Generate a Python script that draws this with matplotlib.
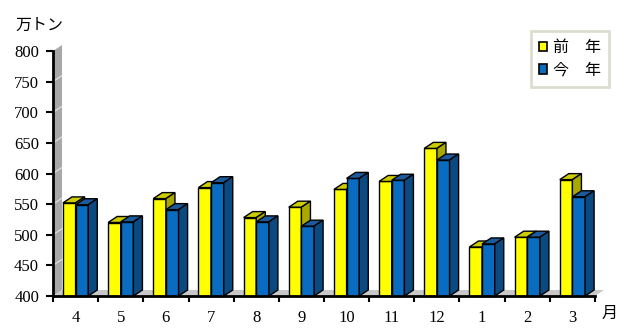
import numpy as np
import matplotlib
matplotlib.use('Agg')
import matplotlib.pyplot as plt
from matplotlib.patches import Polygon, Patch

""" 3D-style clustered column chart: monthly volume, previous year vs this year """

months = ['4', '5', '6', '7', '8', '9', '10', '11', '12', '1', '2', '3']
prev_year = [552, 520, 559, 577, 528, 545, 574, 587, 641, 480, 496, 590]
this_year = [549, 521, 541, 585, 521, 514, 592, 589, 622, 485, 496, 562]
series_labels = ['前\u3000年', '今\u3000年']
y_ticks = [400, 450, 500, 550, 600, 650, 700, 750, 800]

serif = ['Liberation Serif', 'DejaVu Serif']
cjk = ['Noto Sans CJK JP', 'DejaVu Sans']

# Colours for front / top / side of each series
yellow = ('#ffff00', '#cccc00', '#a8a800')
blue = ('#0a6cc0', '#1b5a9b', '#0a4a80')

fig = plt.figure(figsize=(6.35, 3.35), dpi=100)
ax = fig.add_axes([53 / 635, 39 / 335, 542 / 635, 245 / 335])
ax.set_xlim(-0.5, len(months) - 0.5)
ax.set_ylim(400, 800)

# depth of the fake 3D effect, in data units
dx = 0.2
dy = 9.8
w = 0.28
x_lo, x_hi = -0.5, len(months) - 0.5
y_lo, y_hi = 400, 800

# Gray wall on the left and floor at the bottom
wall = Polygon([(x_lo, y_lo), (x_lo + dx, y_lo + dy), (x_lo + dx, y_hi + dy), (x_lo, y_hi)],
               closed=True, facecolor='#a8a8a8', edgecolor='none', clip_on=False, zorder=1)
ax.add_patch(wall)
for t in y_ticks[1:-1]:
	ax.plot([x_lo, x_lo + dx], [t, t + dy], color='white', lw=0.8, alpha=0.7, clip_on=False, zorder=1.1)
floor = Polygon([(x_lo, y_lo), (x_hi, y_lo), (x_hi + dx, y_lo + dy), (x_lo + dx, y_lo + dy)],
                closed=True, facecolor='#c8c8c8', edgecolor='none', clip_on=False, zorder=1)
ax.add_patch(floor)

# Draw the bars category by category: yellow first, then blue covering its side
x = np.arange(len(months))
z = 2
for i in range(len(months)):
	for left, val, cols in ((x[i] - w, prev_year[i], yellow), (x[i], this_year[i], blue)):
		ax.bar(left, val - y_lo, width=w, bottom=y_lo, align='edge', color=cols[0],
		       edgecolor='black', linewidth=1, zorder=z, clip_on=False)
		top = Polygon([(left, val), (left + w, val), (left + w + dx, val + dy), (left + dx, val + dy)],
		              closed=True, facecolor=cols[1], edgecolor='black', linewidth=1, clip_on=False, zorder=z)
		side = Polygon([(left + w, y_lo), (left + w + dx, y_lo + dy), (left + w + dx, val + dy), (left + w, val)],
		               closed=True, facecolor=cols[2], edgecolor='black', linewidth=1, clip_on=False, zorder=z)
		ax.add_patch(top)
		ax.add_patch(side)
		z += 0.01

# Axes styling
for s in ['top', 'right']:
	ax.spines[s].set_visible(False)
for s in ['left', 'bottom']:
	ax.spines[s].set_linewidth(2)
	ax.spines[s].set_zorder(10)
ax.set_yticks(y_ticks)
ax.set_yticklabels([str(t) for t in y_ticks], fontfamily=serif, fontsize=12)
ax.tick_params(axis='y', direction='out', length=5, width=1.5, pad=5)

# Ticks on category boundaries, labels in the middle
ax.set_xticks(np.arange(-0.5, len(months), 1.0))
ax.set_xticklabels([])
ax.tick_params(axis='x', which='major', direction='out', length=4, width=1.5)
ax.set_xticks(x, minor=True)
ax.set_xticklabels(months, minor=True, fontfamily=serif, fontsize=12)
ax.tick_params(axis='x', which='minor', length=0, pad=10)
ax.patch.set_visible(False)

fig.text(15 / 635, 1 - 25 / 335, '万トン', fontfamily=cjk, fontsize=11.5, va='center', ha='left')
fig.text(610 / 635, 1 - 313 / 335, '月', fontfamily=cjk, fontsize=11.5, va='center', ha='center')

handles = [Patch(facecolor=yellow[0], edgecolor='black', linewidth=1.2),
           Patch(facecolor=blue[0], edgecolor='black', linewidth=1.2)]
leg = fig.legend(handles, series_labels, loc='upper right', bbox_to_anchor=(609 / 635, 1 - 31 / 335),
                 prop={'family': cjk, 'size': 11.5}, frameon=True, fancybox=False,
                 handlelength=0.55, handleheight=0.55, handletextpad=0.35, labelspacing=0.35,
                 borderpad=0.5, borderaxespad=0)
leg.get_frame().set_edgecolor('#d4d4c4')
leg.get_frame().set_linewidth(2)

plt.savefig('out.png', dpi=100)
